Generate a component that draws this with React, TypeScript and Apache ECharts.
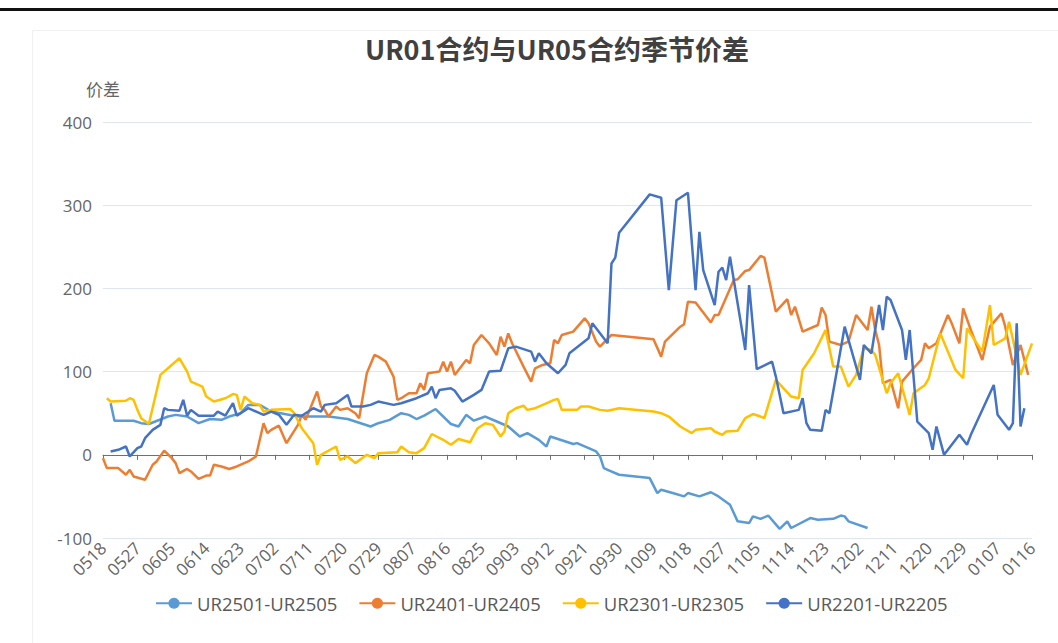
import React, { useEffect, useRef } from "react";
import * as echarts from "echarts";

// Category axis: calendar days 0518 .. 0116 (MMDD)
const startDay = Date.UTC(2024, 4, 18);
const endDay = Date.UTC(2025, 0, 16);
const dates: string[] = [];
for (let t = startDay; t <= endDay; t += 86400000) {
  const d = new Date(t);
  dates.push(String(d.getUTCMonth() + 1).padStart(2, "0") + String(d.getUTCDate()).padStart(2, "0"));
}

const seriesNames = ["UR2501-UR2505", "UR2401-UR2405", "UR2301-UR2305", "UR2201-UR2205"];
const seriesColors = ["#5B9BD5", "#ED7D31", "#FFC000", "#4472C4"];

const ur2501: [string, number][] = [
  ["0520", 62], ["0521", 41], ["0526", 41], ["0528", 38], ["0530", 37], ["0604", 46], ["0606", 48], ["0609", 46],
  ["0612", 38], ["0615", 43], ["0618", 42], ["0620", 46], ["0623", 50], ["0625", 60], ["0628", 60], ["0701", 52],
  ["0708", 46], ["0716", 46], ["0721", 43], ["0727", 34], ["0729", 38], ["0801", 42], ["0804", 50], ["0806", 48],
  ["0808", 43], ["0810", 47], ["0813", 55], ["0817", 37], ["0819", 34], ["0821", 48], ["0823", 41], ["0826", 46],
  ["0829", 40], ["0901", 34], ["0904", 22], ["0906", 26], ["0909", 18], ["0911", 10], ["0912", 22], ["0918", 13],
  ["0919", 14], ["0924", 4], ["0925", -2], ["0926", -16], ["0927", -18], ["0930", -24], ["1008", -28], ["1010", -46],
  ["1011", -42], ["1014", -46], ["1017", -50], ["1018", -46], ["1021", -50], ["1024", -45], ["1026", -50], ["1029", -60],
  ["1031", -80], ["1103", -82], ["1104", -74], ["1106", -77], ["1108", -73], ["1111", -89], ["1113", -80], ["1114", -88],
  ["1119", -76], ["1121", -78], ["1125", -77], ["1127", -73], ["1128", -74], ["1129", -80], ["1204", -88],
];

const ur2401: [string, number][] = [
  ["0518", -4], ["0519", -16], ["0522", -16], ["0524", -24], ["0525", -18], ["0526", -26], ["0529", -30], ["0531", -12],
  ["0601", -8], ["0603", 5], ["0605", -4], ["0606", -10], ["0607", -22], ["0609", -17], ["0610", -20], ["0612", -29],
  ["0614", -25], ["0615", -25], ["0616", -12], ["0618", -14], ["0620", -17], ["0622", -14], ["0625", -8], ["0627", -2],
  ["0629", 38], ["0630", 26], ["0701", 30], ["0703", 35], ["0705", 14], ["0708", 36], ["0709", 48], ["0710", 42],
  ["0713", 76], ["0714", 58], ["0715", 54], ["0716", 46], ["0718", 58], ["0719", 54], ["0721", 56], ["0723", 50],
  ["0724", 44], ["0726", 98], ["0728", 120], ["0729", 118], ["0731", 112], ["0802", 94], ["0803", 66], ["0804", 68],
  ["0806", 74], ["0808", 74], ["0809", 86], ["0810", 78], ["0811", 98], ["0814", 100], ["0815", 112], ["0816", 100],
  ["0817", 112], ["0818", 96], ["0821", 114], ["0822", 110], ["0823", 132], ["0825", 144], ["0827", 134], ["0829", 120],
  ["0830", 142], ["0831", 130], ["0901", 146], ["0902", 134], ["0905", 106], ["0907", 88], ["0908", 104], ["0910", 108],
  ["0912", 110], ["0913", 138], ["0914", 134], ["0915", 144], ["0918", 148], ["0921", 164], ["0922", 158], ["0924", 136],
  ["0925", 130], ["0928", 144], ["1009", 139], ["1011", 118], ["1012", 136], ["1016", 154], ["1017", 157], ["1018", 184],
  ["1020", 183], ["1024", 159], ["1025", 168], ["1026", 168], ["1030", 210], ["1031", 211], ["1102", 221], ["1103", 222],
  ["1106", 239], ["1107", 237], ["1110", 172], ["1113", 187], ["1114", 168], ["1115", 178], ["1117", 148], ["1121", 156],
  ["1122", 177], ["1123", 168], ["1124", 136], ["1127", 132], ["1129", 136], ["1201", 168], ["1204", 150], ["1205", 178],
  ["1206", 150], ["1207", 132], ["1208", 86], ["1210", 90], ["1212", 56], ["1213", 88], ["1216", 104], ["1218", 114],
  ["1219", 134], ["1220", 128], ["1222", 134], ["1225", 168], ["1226", 158], ["1228", 134], ["1229", 176], ["1231", 150],
  ["0103", 114], ["0105", 154], ["0108", 170], ["0109", 154], ["0111", 108], ["0113", 132], ["0115", 96],
];

const ur2301: [string, number][] = [
  ["0519", 68], ["0520", 64], ["0524", 65], ["0525", 68], ["0526", 66], ["0527", 54], ["0528", 44], ["0530", 37],
  ["0602", 96], ["0607", 116], ["0609", 100], ["0610", 88], ["0613", 82], ["0614", 70], ["0616", 64], ["0619", 68],
  ["0621", 73], ["0622", 72], ["0623", 54], ["0624", 70], ["0626", 62], ["0628", 60], ["0629", 52], ["0701", 54],
  ["0706", 55], ["0707", 50], ["0709", 32], ["0712", 14], ["0713", -12], ["0714", 0], ["0718", 10], ["0719", -6],
  ["0721", -2], ["0722", -6], ["0723", -10], ["0726", 0], ["0728", -4], ["0729", 2], ["0803", 3], ["0804", 10],
  ["0806", 3], ["0808", 2], ["0810", 8], ["0812", 25], ["0815", 18], ["0817", 12], ["0819", 19], ["0822", 15],
  ["0824", 32], ["0826", 38], ["0828", 36], ["0830", 22], ["0831", 28], ["0901", 50], ["0903", 56], ["0905", 59],
  ["0906", 54], ["0908", 56], ["0909", 58], ["0913", 66], ["0914", 67], ["0915", 54], ["0919", 54], ["0920", 58],
  ["0922", 58], ["0925", 54], ["0927", 53], ["0930", 56], ["1009", 52], ["1011", 50], ["1013", 46], ["1016", 34],
  ["1019", 26], ["1020", 30], ["1024", 32], ["1025", 28], ["1027", 24], ["1028", 28], ["1031", 29], ["1102", 44],
  ["1104", 49], ["1106", 46], ["1107", 44], ["1110", 90], ["1114", 70], ["1116", 68], ["1117", 102], ["1120", 122],
  ["1123", 150], ["1125", 106], ["1127", 106], ["1129", 82], ["1201", 96], ["1203", 128], ["1205", 126], ["1206", 120],
  ["1209", 74], ["1210", 86], ["1212", 98], ["1215", 48], ["1216", 74], ["1219", 84], ["1220", 92], ["1223", 146],
  ["1227", 102], ["1229", 92], ["1230", 152], ["0103", 124], ["0105", 180], ["0106", 132], ["0109", 140], ["0110", 160],
  ["0113", 96], ["0116", 134],
];

const ur2201: [string, number][] = [
  ["0520", 4], ["0522", 6], ["0524", 10], ["0525", -2], ["0527", 8], ["0528", 10], ["0529", 20], ["0531", 30],
  ["0602", 36], ["0603", 56], ["0604", 54], ["0607", 53], ["0608", 66], ["0609", 47], ["0610", 54], ["0612", 47],
  ["0616", 47], ["0617", 52], ["0619", 47], ["0621", 62], ["0622", 47], ["0625", 56], ["0626", 54], ["0629", 48],
  ["0701", 52], ["0703", 48], ["0705", 36], ["0707", 48], ["0709", 47], ["0712", 56], ["0714", 52], ["0715", 60],
  ["0718", 62], ["0721", 72], ["0722", 58], ["0725", 58], ["0727", 60], ["0729", 64], ["0802", 60], ["0804", 62],
  ["0808", 68], ["0811", 74], ["0812", 82], ["0813", 68], ["0814", 78], ["0817", 80], ["0818", 77], ["0820", 64],
  ["0823", 72], ["0825", 78], ["0827", 100], ["0830", 101], ["0901", 128], ["0903", 130], ["0907", 124], ["0908", 112],
  ["0909", 122], ["0911", 110], ["0914", 98], ["0916", 108], ["0917", 122], ["0922", 140], ["0923", 158], ["0925", 146],
  ["0927", 134], ["0928", 230], ["0929", 237], ["0930", 267], ["1008", 313], ["1011", 309], ["1013", 198], ["1015", 306],
  ["1018", 315], ["1020", 198], ["1021", 268], ["1022", 222], ["1025", 180], ["1026", 220], ["1027", 225], ["1028", 210],
  ["1029", 238], ["1102", 126], ["1103", 204], ["1105", 103], ["1109", 112], ["1110", 94], ["1112", 50], ["1116", 54],
  ["1117", 68], ["1118", 38], ["1119", 30], ["1122", 29], ["1123", 54], ["1124", 50], ["1128", 154], ["1202", 90],
  ["1203", 132], ["1205", 122], ["1207", 180], ["1208", 150], ["1209", 190], ["1210", 186], ["1213", 150], ["1214", 114],
  ["1215", 150], ["1217", 40], ["1220", 26], ["1221", 6], ["1222", 34], ["1224", 0], ["1228", 24], ["1230", 12],
  ["1231", 24], ["0106", 84], ["0107", 48], ["0110", 30], ["0111", 38], ["0112", 158], ["0113", 34], ["0114", 56],
];

const seriesData = [ur2501, ur2401, ur2301, ur2201];

const FONT = "'Open Sans', 'Noto Sans CJK SC', sans-serif";

export default function App() {
  const ref = useRef<HTMLDivElement>(null);
  useEffect(() => {
    if (!ref.current) return;
    const chart = echarts.init(ref.current, undefined, { renderer: "svg" });
    chart.setOption({
      animation: false,
      backgroundColor: "#ffffff",
      textStyle: { fontFamily: FONT },
      graphic: [
        { type: "rect", left: 0, top: 8, shape: { width: 1058, height: 3 }, style: { fill: "#111111" }, silent: true },
        { type: "rect", left: 30, top: 28, shape: { width: 1040, height: 620 }, style: { fill: "none", stroke: "#f0f0f0", lineWidth: 1 }, silent: true },
      ],
      title: {
        text: "UR01合约与UR05合约季节价差",
        left: 360,
        top: 30,
        textStyle: { fontFamily: "'Noto Sans CJK SC', sans-serif", fontSize: 27, fontWeight: "bold", color: "#404040" },
      },
      legend: {
        data: seriesNames,
        top: 589,
        left: 150,
        itemWidth: 36,
        itemHeight: 14,
        itemGap: 21,
        textStyle: { fontSize: 18.5, color: "#595959", fontFamily: FONT },
      },
      grid: { left: 103, right: 26, top: 122, bottom: 105, containLabel: false },
      xAxis: [
        {
          type: "category",
          data: dates,
          boundaryGap: false,
          position: "bottom",
          axisLine: { show: false, onZero: false },
          axisTick: { show: false },
          axisLabel: { interval: 8, rotate: 45, color: "#666666", fontSize: 17, margin: 7, fontFamily: FONT },
        },
        {
          type: "category",
          data: dates,
          boundaryGap: false,
          position: "bottom",
          axisLine: { show: true, onZero: true, lineStyle: { color: "#6E7079", width: 1 } },
          axisTick: { show: true, interval: 8, length: 5, lineStyle: { color: "#6E7079" } },
          axisLabel: { show: false },
        },
      ],
      yAxis: {
        type: "value",
        min: -100,
        max: 400,
        interval: 100,
        name: "价差",
        nameLocation: "end",
        nameGap: 24,
        nameTextStyle: { color: "#666666", fontSize: 17, fontFamily: FONT, align: "center" },
        axisLine: { show: false },
        axisTick: { show: false },
        axisLabel: { color: "#666666", fontSize: 17, margin: 11, fontFamily: FONT },
        splitLine: { lineStyle: { color: "#E0E6F1" } },
      },
      series: seriesNames.map((name, i) => ({
        name,
        type: "line",
        xAxisIndex: 0,
        data: seriesData[i],
        symbol: "circle",
        symbolSize: 10,
        showSymbol: false,
        color: seriesColors[i],
        lineStyle: { width: 2.5, color: seriesColors[i] },
      })),
    });
    return () => chart.dispose();
  }, []);
  return <div ref={ref} style={{ position: "fixed", left: 0, top: 0, width: 1058, height: 643 }} />;
}
